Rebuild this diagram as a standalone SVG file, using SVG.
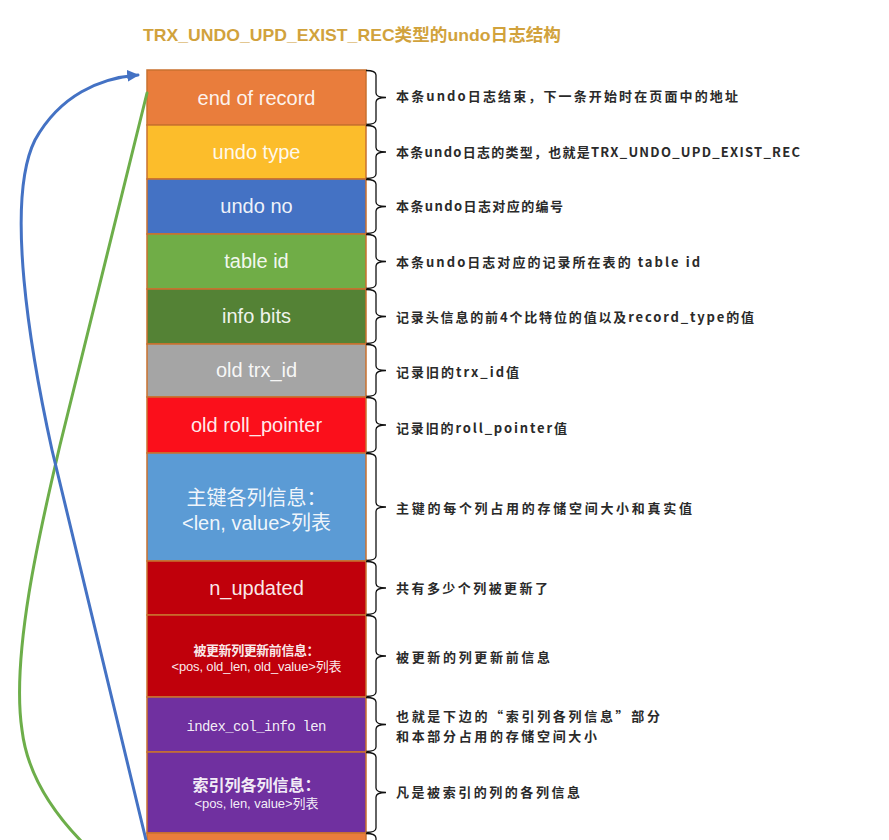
<svg xmlns="http://www.w3.org/2000/svg" width="889" height="840" viewBox="0 0 889 840">
<defs>
<style>
.box{stroke:#C9712F;stroke-width:1.5}
.lbl{font-family:"Liberation Sans","Noto Sans CJK SC",sans-serif;font-size:20px;fill:#fff;fill-opacity:.93;text-anchor:middle}
.sm{font-size:13px}
.md{font-size:16px;font-weight:700}
.mono{font-family:"Liberation Mono","Noto Sans CJK SC",monospace;font-size:14px}
.desc{font-family:"Noto Sans CJK SC","Liberation Sans",sans-serif;font-size:13px;font-weight:700;fill:#2a2a2a}
.brace{fill:none;stroke:#111;stroke-width:1.3}
.title{font-family:"Liberation Sans","Noto Sans CJK SC",sans-serif;font-size:17px;font-weight:700;fill:#D1A23C}
</style>
<marker id="ah" viewBox="0 0 10 10" refX="9" refY="5" markerWidth="4" markerHeight="4" orient="auto" markerUnits="strokeWidth">
<path d="M0,0 L10,5 L0,10 z" fill="#4472C4"/>
</marker>
</defs>
<rect width="889" height="840" fill="#fff"/>
<text class="title" x="143" y="41" textLength="418" lengthAdjust="spacingAndGlyphs">TRX_UNDO_UPD_EXIST_REC类型的undo日志结构</text>

<g id="n1"><rect class="box" x="147" y="70" width="219" height="55" fill="#E97D3C"/><text class="lbl" x="256.5" y="105">end of record</text>
<path class="brace" d="M366,70.5 Q376,70.5 376,75 V93 Q376,97.5 386,97.5 Q376,97.5 376,102 V120 Q376,124.5 366,124.5"/>
<text class="desc" x="396" y="101" textLength="342">本条undo日志结束，下一条开始时在页面中的地址</text></g>

<g id="n2"><rect class="box" x="147" y="125" width="219" height="54" fill="#FCBD2B"/><text class="lbl" x="256.5" y="159">undo type</text>
<path class="brace" d="M366,125.5 Q376,125.5 376,130 V147.5 Q376,152 386,152 Q376,152 376,156.5 V174 Q376,178.5 366,178.5"/>
<text class="desc" x="396" y="157" textLength="404">本条undo日志的类型，也就是TRX_UNDO_UPD_EXIST_REC</text></g>

<g id="n3"><rect class="box" x="147" y="179" width="219" height="55" fill="#4472C4"/><text class="lbl" x="256.5" y="213">undo no</text>
<path class="brace" d="M366,179.5 Q376,179.5 376,184 V202 Q376,206.5 386,206.5 Q376,206.5 376,211 V229 Q376,233.5 366,233.5"/>
<text class="desc" x="396" y="211" textLength="167">本条undo日志对应的编号</text></g>

<g id="n4"><rect class="box" x="147" y="234" width="219" height="55" fill="#70AD47"/><text class="lbl" x="256.5" y="268">table id</text>
<path class="brace" d="M366,234.5 Q376,234.5 376,239 V257 Q376,261.5 386,261.5 Q376,261.5 376,266 V284 Q376,288.5 366,288.5"/>
<text class="desc" x="396" y="267" textLength="304">本条undo日志对应的记录所在表的 table id</text></g>

<g id="n5"><rect class="box" x="147" y="289" width="219" height="55" fill="#548235"/><text class="lbl" x="256.5" y="323">info bits</text>
<path class="brace" d="M366,289.5 Q376,289.5 376,294 V312 Q376,316.5 386,316.5 Q376,316.5 376,321 V339 Q376,343.5 366,343.5"/>
<text class="desc" x="396" y="322" textLength="358">记录头信息的前4个比特位的值以及record_type的值</text></g>

<g id="n6"><rect class="box" x="147" y="344" width="219" height="53" fill="#A5A5A5"/><text class="lbl" x="256.5" y="377">old trx_id</text>
<path class="brace" d="M366,344.5 Q376,344.5 376,349 V366 Q376,370.5 386,370.5 Q376,370.5 376,375 V392 Q376,396.5 366,396.5"/>
<text class="desc" x="396" y="377" textLength="123">记录旧的trx_id值</text></g>

<g id="n7"><rect class="box" x="147" y="397" width="219" height="56" fill="#FB0F1B"/><text class="lbl" x="256.5" y="432">old roll_pointer</text>
<path class="brace" d="M366,397.5 Q376,397.5 376,402 V420.5 Q376,425 386,425 Q376,425 376,429.5 V448 Q376,452.5 366,452.5"/>
<text class="desc" x="396" y="433" textLength="171">记录旧的roll_pointer值</text></g>

<g id="n8"><rect class="box" x="147" y="453" width="219" height="108" fill="#5B9BD5"/><text class="lbl" x="256.5" y="505">主键各列信息：</text><text class="lbl" x="256.5" y="530">&lt;len, value&gt;列表</text>
<path class="brace" d="M366,453.5 Q376,453.5 376,458 V502.5 Q376,507 386,507 Q376,507 376,511.5 V556 Q376,560.5 366,560.5"/>
<text class="desc" x="396" y="513" textLength="296">主键的每个列占用的存储空间大小和真实值</text></g>

<g id="n9"><rect class="box" x="147" y="561" width="219" height="54" fill="#C0000B"/><text class="lbl" x="256.5" y="595">n_updated</text>
<path class="brace" d="M366,561.5 Q376,561.5 376,566 V583.5 Q376,588 386,588 Q376,588 376,592.5 V610 Q376,614.5 366,614.5"/>
<text class="desc" x="396" y="593" textLength="152">共有多少个列被更新了</text></g>

<g id="n10"><rect class="box" x="147" y="615" width="219" height="82" fill="#C0000B"/><text class="lbl sm" x="256.5" y="655" font-weight="700" textLength="126">被更新列更新前信息：</text><text class="lbl sm" x="256.5" y="671" textLength="170">&lt;pos, old_len, old_value&gt;列表</text>
<path class="brace" d="M366,615.5 Q376,615.5 376,620 V651.5 Q376,656 386,656 Q376,656 376,660.5 V692 Q376,696.5 366,696.5"/>
<text class="desc" x="396" y="662" textLength="154">被更新的列更新前信息</text></g>

<g id="n11"><rect class="box" x="147" y="697" width="219" height="55" fill="#7030A0"/><text class="lbl mono" x="256.5" y="731" textLength="140">index_col_info len</text>
<path class="brace" d="M366,697.5 Q376,697.5 376,702 V720 Q376,724.5 386,724.5 Q376,724.5 376,729 V747 Q376,751.5 366,751.5"/>
<text class="desc" x="396" y="721" textLength="264">也就是下边的“索引列各列信息”部分</text>
<text class="desc" x="396" y="741" textLength="201">和本部分占用的存储空间大小</text></g>

<g id="n12"><rect class="box" x="147" y="752" width="219" height="81" fill="#7030A0"/><text class="lbl md" x="256.5" y="791">索引列各列信息：</text><text class="lbl sm" x="256.5" y="808" textLength="124">&lt;pos, len, value&gt;列表</text>
<path class="brace" d="M366,752.5 Q376,752.5 376,757 V788 Q376,792.5 386,792.5 Q376,792.5 376,797 V828 Q376,832.5 366,832.5"/>
<text class="desc" x="396" y="797" textLength="184">凡是被索引的列的各列信息</text></g>

<g id="n13"><rect class="box" x="147" y="833" width="219" height="20" fill="#E97D3C"/>
<path class="brace" d="M366,833.5 Q376,833.5 376,838 V850"/></g>

<g id="connectors" fill="none" stroke-width="3" stroke-linecap="round">
<path d="M85,845 C60,820 28,780 22,730 C10,650 45,510 60,445 L147,93" stroke="#6DAE4A"/>
<path d="M146,840 L52,450 C30,350 5,200 35,140 C60,95 100,78 138,75" stroke="#4472C4" marker-end="url(#ah)"/>
</g>
</svg>
